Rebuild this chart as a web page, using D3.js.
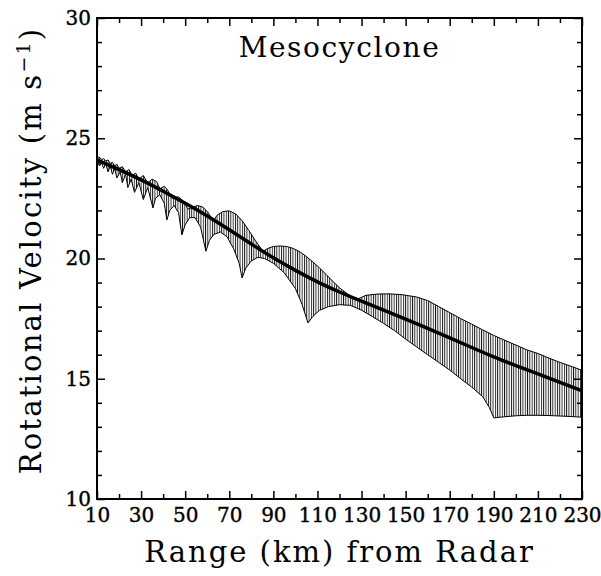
<!DOCTYPE html>
<html>
<head>
<meta charset="utf-8">
<script src="https://cdn.jsdelivr.net/npm/d3@7"></script>
<style>
  body { margin: 0; background: #fff; }
  text { font-family: "DejaVu Serif", serif; fill: #000; }
</style>
</head>
<body>
<div id="chart"></div>
<script>
// tick values
var rangeMajor = [10, 30, 50, 70, 90, 110, 130, 150, 170, 190, 210, 230];
var rangeMinor = [20, 40, 60, 80, 100, 120, 140, 160, 180, 200, 220];
var velMajor = [10, 15, 20, 25, 30];
var velMinor = [11, 12, 13, 14, 16, 17, 18, 19, 21, 22, 23, 24, 26, 27, 28, 29];

// mean rotational velocity (range km, m/s)
var meanLine = [[10, 24.1], [20, 23.7], [30, 23.28], [40, 22.8], [50, 22.3], [60, 21.78],
  [70, 21.2], [80, 20.6], [90, 20.02], [100, 19.5], [110, 19.02], [120, 18.6],
  [130, 18.22], [140, 17.86], [150, 17.48], [160, 17.09], [170, 16.7], [180, 16.3],
  [190, 15.9], [200, 15.55], [210, 15.2], [220, 14.85], [230, 14.5]];

// upper edge of the sampled range
var upperEdge = [[10, 24.2], [11, 24.22], [12, 24.12], [13, 24.15], [14, 24.05], [15, 24.1],
  [16, 23.95], [17, 24.0], [18, 23.85], [19, 23.92], [20, 23.75], [21.5, 23.82], [23, 23.6],
  [24.5, 23.7], [26, 23.45], [27.5, 23.55], [29, 23.3], [31, 23.45], [33, 23.15], [35, 23.3],
  [37, 23.2], [38.5, 22.9], [40.5, 23.0], [42, 22.85], [44, 22.5], [45.5, 22.55], [47, 22.56],
  [49, 22.4], [51.3, 22.05], [53, 22.12], [55.5, 22.2], [58, 22.14], [60.5, 21.9], [62.6, 21.55],
  [64.5, 21.8], [67, 21.95], [70, 21.98], [73, 21.85], [76, 21.55], [79, 21.15], [82, 20.72],
  [85.3, 20.3], [87.5, 20.42], [90, 20.5], [93, 20.52], [96, 20.5], [99, 20.42], [102, 20.28],
  [105, 20.08], [108, 19.85], [111, 19.6], [114, 19.33], [117, 19.05], [120, 18.78],
  [124, 18.5], [128, 18.3], [132, 18.47], [137, 18.52], [142, 18.53], [148, 18.5],
  [155, 18.4], [160, 18.25], [165, 18.0], [170, 17.75], [175, 17.5], [180, 17.27],
  [185, 17.03], [190, 16.8], [195, 16.6], [200, 16.4], [205, 16.2], [210, 16.05],
  [215, 15.86], [220, 15.68], [225, 15.52], [230, 15.35]];

// lower edge of the sampled range
var lowerEdge = [[10, 24.0], [11.2, 23.85], [12, 24.0], [13, 23.75], [14, 23.95], [15, 23.6],
  [16, 23.85], [17, 23.5], [18, 23.75], [19, 23.35], [20.5, 23.6], [21.5, 23.15], [23, 23.5],
  [24, 22.95], [25.5, 23.3], [27, 22.75], [29, 23.15], [31, 22.45], [33, 22.95], [35.4, 22.1],
  [36.5, 22.5], [38.5, 22.65], [40.5, 22.3], [41.7, 21.6], [43, 22.0], [45, 22.2], [47, 21.9],
  [48.5, 20.98], [50, 21.4], [52, 21.7], [54.5, 21.7], [57, 21.3], [59.4, 20.3], [61, 20.75],
  [63, 21.0], [66, 21.1], [69, 20.9], [72, 20.4], [74.5, 19.8], [75.8, 19.19], [77.5, 19.6],
  [80, 19.9], [83, 20.05], [86, 20.0], [90, 19.8], [95, 19.4], [100, 18.75], [103, 18.1],
  [105.7, 17.32], [108, 17.6], [111, 17.85], [115, 18.0], [120, 18.08], [125, 18.05],
  [130, 17.85], [135, 17.58], [140, 17.3], [145, 17.0], [150, 16.65], [155, 16.32],
  [160, 16.0], [165, 15.68], [170, 15.36], [175, 15.0], [180, 14.65], [185, 14.25],
  [188, 13.8], [190, 13.37], [195, 13.42], [200, 13.46], [205, 13.48], [210, 13.48],
  [215, 13.47], [220, 13.45], [225, 13.43], [230, 13.4]];

var W = 601, H = 576;
var margin = {top: 18, right: 19, bottom: 77, left: 97},
    width = W - margin.left - margin.right,
    height = H - margin.top - margin.bottom;

var svg = d3.select("#chart")
  .append("svg")
    .attr("width", W)
    .attr("height", H);

var defs = svg.append("defs");
var pat = defs.append("pattern")
    .attr("id", "hatch")
    .attr("patternUnits", "userSpaceOnUse")
    .attr("width", 2.3)
    .attr("height", 10);
pat.append("rect")
    .attr("x", 0).attr("y", 0)
    .attr("width", 0.9).attr("height", 10)
    .attr("fill", "#111");

var g = svg.append("g")
    .attr("transform", "translate(" + margin.left + "," + margin.top + ")");

var x = d3.scaleLinear().domain([10, 230]).range([0, width]);
var y = d3.scaleLinear().domain([10, 30]).range([height, 0]);

var line = d3.line()
    .x(function(d) { return x(d[0]); })
    .y(function(d) { return y(d[1]); });

// hatched band
var bandPts = upperEdge.concat(lowerEdge.slice().reverse());
g.append("path")
    .attr("d", line(bandPts) + "Z")
    .attr("fill", "url(#hatch)")
    .attr("stroke", "none");

g.append("path")
    .attr("d", line(upperEdge))
    .attr("fill", "none")
    .attr("stroke", "#000")
    .attr("stroke-width", 1);
g.append("path")
    .attr("d", line(lowerEdge))
    .attr("fill", "none")
    .attr("stroke", "#000")
    .attr("stroke-width", 1);

// mean line
g.append("path")
    .datum(meanLine)
    .attr("d", line.curve(d3.curveBasis))
    .attr("fill", "none")
    .attr("stroke", "#000")
    .attr("stroke-width", 3.5);

// axes, ticks pointing inward
function styleAxis(sel) {
  sel.select(".domain").remove();
  sel.selectAll("line").attr("stroke", "#000").attr("stroke-width", 1.5);
  sel.selectAll("text")
    .style("font-family", "DejaVu Serif")
    .style("font-size", "20px")
    .attr("stroke", "#000")
    .attr("stroke-width", 0.4);
}

g.append("g")
    .attr("transform", "translate(0," + height + ")")
    .call(d3.axisBottom(x).tickValues(rangeMajor).tickSize(-8).tickPadding(9).tickFormat(d3.format("d")))
    .call(styleAxis);
g.append("g")
    .attr("transform", "translate(0," + height + ")")
    .call(d3.axisBottom(x).tickValues(rangeMinor).tickSize(-5).tickFormat(""))
    .call(styleAxis);
g.append("g")
    .call(d3.axisTop(x).tickValues(rangeMajor).tickSize(-8).tickFormat(""))
    .call(styleAxis);
g.append("g")
    .call(d3.axisTop(x).tickValues(rangeMinor).tickSize(-5).tickFormat(""))
    .call(styleAxis);

g.append("g")
    .call(d3.axisLeft(y).tickValues(velMajor).tickSize(-8).tickPadding(6).tickFormat(d3.format("d")))
    .call(styleAxis);
g.append("g")
    .call(d3.axisLeft(y).tickValues(velMinor).tickSize(-5).tickFormat(""))
    .call(styleAxis);
g.append("g")
    .attr("transform", "translate(" + width + ",0)")
    .call(d3.axisRight(y).tickValues(velMajor).tickSize(-8).tickFormat(""))
    .call(styleAxis);
g.append("g")
    .attr("transform", "translate(" + width + ",0)")
    .call(d3.axisRight(y).tickValues(velMinor).tickSize(-5).tickFormat(""))
    .call(styleAxis);

// frame
g.append("rect")
    .attr("width", width)
    .attr("height", height)
    .attr("fill", "none")
    .attr("stroke", "#000")
    .attr("stroke-width", 2);

// titles
g.append("text")
    .attr("x", width / 2)
    .attr("y", 39)
    .style("text-anchor", "middle")
    .style("font-size", "28px")
    .style("letter-spacing", "1.6px")
    .text("Mesocyclone");

g.append("text")
    .attr("x", width / 2)
    .attr("y", height + 63)
    .style("text-anchor", "middle")
    .style("font-size", "29px")
    .style("letter-spacing", "2px")
    .text("Range (km) from Radar");

var yt = svg.append("text")
    .attr("transform", "translate(41," + (margin.top + height / 2 - 8) + ") rotate(-90)")
    .style("text-anchor", "middle")
    .style("font-size", "29px")
    .style("letter-spacing", "2.2px");
yt.append("tspan").text("Rotational Velocity (m s");
yt.append("tspan").attr("dy", -11).style("font-size", "19px").text("\u22121");
yt.append("tspan").attr("dy", 11).text(")");
</script>
</body>
</html>
